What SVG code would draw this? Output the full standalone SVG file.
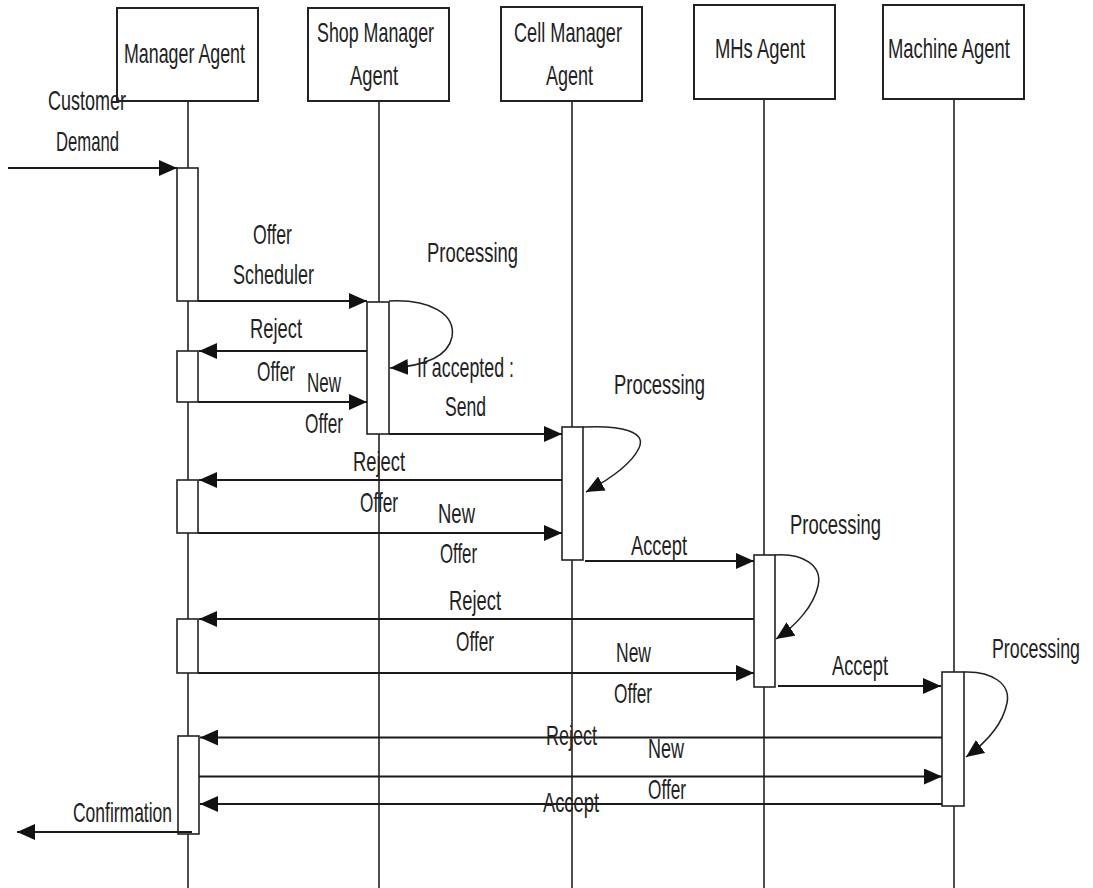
<svg xmlns="http://www.w3.org/2000/svg" width="1093" height="888" viewBox="0 0 1093 888">
<style>
.hd{fill:#fff;stroke:#222;stroke-width:2}
.ll{stroke:#222;stroke-width:1.6;fill:none}
.act{fill:#fff;stroke:#222;stroke-width:1.6}
.msg{stroke:#1a1a1a;stroke-width:1.8;fill:none;marker-end:url(#ah)}
.self{stroke:#222;stroke-width:1.5;fill:none;marker-end:url(#ah)}
text{font-family:"Liberation Sans",Arial,sans-serif;font-size:28px;fill:#222}
</style>
<defs>
<marker id="ah" viewBox="0 0 18 16" refX="18" refY="8" markerWidth="18" markerHeight="16" markerUnits="userSpaceOnUse" orient="auto">
<path d="M0,0 L18,8 L0,16 z" fill="#111"/>
</marker>
</defs>
<rect width="1093" height="888" fill="#fff"/>

<g id="manager-agent">
<line class="ll" x1="188" y1="101" x2="188" y2="888"/>
<rect class="hd" x="117" y="8" width="141" height="93"/>
<text x="124" y="63" textLength="121" lengthAdjust="spacingAndGlyphs">Manager Agent</text>
<rect class="act" x="177" y="168" width="21" height="133"/>
<rect class="act" x="177" y="351" width="21" height="51"/>
<rect class="act" x="177" y="480" width="21" height="53"/>
<rect class="act" x="177" y="619" width="21" height="54"/>
<rect class="act" x="178" y="736" width="21" height="98"/>
</g>

<g id="shop-manager-agent">
<line class="ll" x1="379" y1="101" x2="379" y2="888"/>
<rect class="hd" x="308" y="8" width="141" height="93"/>
<text x="317" y="42" textLength="117" lengthAdjust="spacingAndGlyphs">Shop Manager</text>
<text x="350" y="85" textLength="48" lengthAdjust="spacingAndGlyphs">Agent</text>
<rect class="act" x="367" y="302" width="22" height="132"/>
</g>

<g id="cell-manager-agent">
<line class="ll" x1="572" y1="101" x2="572" y2="888"/>
<rect class="hd" x="501" y="7" width="141" height="94"/>
<text x="514" y="42" textLength="108" lengthAdjust="spacingAndGlyphs">Cell Manager</text>
<text x="546" y="85" textLength="47" lengthAdjust="spacingAndGlyphs">Agent</text>
<rect class="act" x="562" y="427" width="21" height="133"/>
</g>

<g id="mhs-agent">
<line class="ll" x1="764" y1="99" x2="764" y2="888"/>
<rect class="hd" x="694" y="5" width="141" height="94"/>
<text x="715" y="58" textLength="90" lengthAdjust="spacingAndGlyphs">MHs Agent</text>
<rect class="act" x="754" y="555" width="21" height="132"/>
</g>

<g id="machine-agent">
<line class="ll" x1="954" y1="99" x2="954" y2="888"/>
<rect class="hd" x="883" y="5" width="141" height="94"/>
<text x="888" y="58" textLength="122" lengthAdjust="spacingAndGlyphs">Machine Agent</text>
<rect class="act" x="942" y="672" width="22" height="134"/>
</g>

<g id="connectors">
<line class="msg" x1="8" y1="168" x2="177" y2="168"/>
<line class="msg" x1="198" y1="301" x2="367" y2="301"/>
<path class="self" d="M389,301 C430,299 456,314 452,337 C448,356 425,366 390,368"/>
<line class="msg" x1="367" y1="351" x2="199" y2="351"/>
<line class="msg" x1="198" y1="402" x2="367" y2="402"/>
<line class="msg" x1="389" y1="434" x2="562" y2="434"/>
<path class="self" d="M583,427 C622,425 647,432 639,448 C632,463 612,478 586,492"/>
<line class="msg" x1="562" y1="480" x2="199" y2="480"/>
<line class="msg" x1="198" y1="533" x2="562" y2="533"/>
<line class="msg" x1="585" y1="561" x2="754" y2="561"/>
<path class="self" d="M775,555 C802,553 823,565 818,586 C814,605 797,625 776,639"/>
<line class="msg" x1="754" y1="619" x2="199" y2="619"/>
<line class="msg" x1="198" y1="673" x2="754" y2="673"/>
<line class="msg" x1="778" y1="686" x2="941" y2="686"/>
<path class="self" d="M964,672 C992,671 1011,684 1007,703 C1003,723 987,742 966,757"/>
<line class="msg" x1="942" y1="737.5" x2="200" y2="737.5"/>
<line class="msg" x1="199" y1="776.5" x2="942" y2="776.5"/>
<line class="msg" x1="942" y1="804" x2="200" y2="804"/>
<line class="msg" x1="192" y1="832" x2="17" y2="832"/>
</g>

<g id="labels">
<text x="48" y="110" textLength="78" lengthAdjust="spacingAndGlyphs">Customer</text>
<text x="56" y="151" textLength="63" lengthAdjust="spacingAndGlyphs">Demand</text>
<text x="253" y="244" textLength="39" lengthAdjust="spacingAndGlyphs">Offer</text>
<text x="233" y="284" textLength="81" lengthAdjust="spacingAndGlyphs">Scheduler</text>
<text x="427" y="262" textLength="91" lengthAdjust="spacingAndGlyphs">Processing</text>
<text x="250" y="338" textLength="52" lengthAdjust="spacingAndGlyphs">Reject</text>
<text x="257" y="381" textLength="38" lengthAdjust="spacingAndGlyphs">Offer</text>
<text x="307" y="392" textLength="34" lengthAdjust="spacingAndGlyphs">New</text>
<text x="305" y="433" textLength="38" lengthAdjust="spacingAndGlyphs">Offer</text>
<text x="417" y="377" textLength="97" lengthAdjust="spacingAndGlyphs">If accepted :</text>
<text x="445" y="416" textLength="41" lengthAdjust="spacingAndGlyphs">Send</text>
<text x="614" y="394" textLength="91" lengthAdjust="spacingAndGlyphs">Processing</text>
<text x="353" y="471" textLength="52" lengthAdjust="spacingAndGlyphs">Reject</text>
<text x="360" y="512" textLength="38" lengthAdjust="spacingAndGlyphs">Offer</text>
<text x="438" y="523" textLength="37" lengthAdjust="spacingAndGlyphs">New</text>
<text x="440" y="563" textLength="37" lengthAdjust="spacingAndGlyphs">Offer</text>
<text x="631" y="555" textLength="56" lengthAdjust="spacingAndGlyphs">Accept</text>
<text x="790" y="534" textLength="91" lengthAdjust="spacingAndGlyphs">Processing</text>
<text x="449" y="610" textLength="52" lengthAdjust="spacingAndGlyphs">Reject</text>
<text x="456" y="651" textLength="38" lengthAdjust="spacingAndGlyphs">Offer</text>
<text x="616" y="662" textLength="35" lengthAdjust="spacingAndGlyphs">New</text>
<text x="614" y="703" textLength="38" lengthAdjust="spacingAndGlyphs">Offer</text>
<text x="832" y="675" textLength="56" lengthAdjust="spacingAndGlyphs">Accept</text>
<text x="992" y="658" textLength="88" lengthAdjust="spacingAndGlyphs">Processing</text>
<text x="546" y="745" textLength="51" lengthAdjust="spacingAndGlyphs">Reject</text>
<text x="648" y="758" textLength="36" lengthAdjust="spacingAndGlyphs">New</text>
<text x="648" y="799" textLength="38" lengthAdjust="spacingAndGlyphs">Offer</text>
<text x="543" y="812" textLength="56" lengthAdjust="spacingAndGlyphs">Accept</text>
<text x="73" y="822" textLength="99" lengthAdjust="spacingAndGlyphs">Confirmation</text>
</g>
</svg>
